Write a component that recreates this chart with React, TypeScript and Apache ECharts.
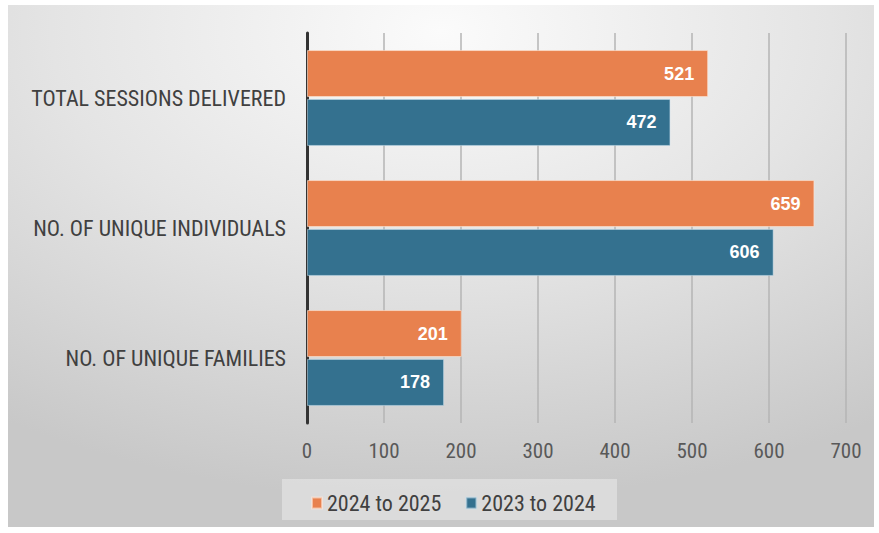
import React, { useEffect, useRef } from "react";
import * as echarts from "echarts";

const categories = ["TOTAL SESSIONS DELIVERED", "NO. OF UNIQUE INDIVIDUALS", "NO. OF UNIQUE FAMILIES"];
const seriesNames = ["2024 to 2025", "2023 to 2024"];
const values2425 = [521, 659, 201];
const values2324 = [472, 606, 178];
const xTicks = { min: 0, max: 700, interval: 100 };

export default function App() {
  const ref = useRef<HTMLDivElement>(null);
  useEffect(() => {
    const chart = echarts.init(ref.current!, null, { renderer: "svg" });
    const font = "'Liberation Sans Narrow', 'Roboto Condensed', 'Liberation Sans', sans-serif";
    const valueLabel = {
      show: true,
      position: "insideRight",
      distance: 14,
      color: "#ffffff",
      fontWeight: "bold",
      fontSize: 18,
      fontFamily: "'Liberation Sans', Arial, sans-serif",
    };
    chart.setOption({
      animation: false,
      backgroundColor: "#ffffff",
      graphic: [
        {
          type: "rect",
          z: -10,
          silent: true,
          shape: { x: 8, y: 5, width: 866, height: 522 },
          style: {
            fill: new echarts.graphic.RadialGradient(0.5, 0.05, 0.9, [
              { offset: 0, color: "#fbfbfb" },
              { offset: 0.5, color: "#e4e4e4" },
              { offset: 1, color: "#c8c8c8" },
            ]),
          },
        },
        {
          type: "rect",
          z: -5,
          silent: true,
          shape: { x: 282, y: 479, width: 335, height: 41 },
          style: { fill: "rgba(238,238,238,0.5)" },
        },
      ],
      grid: { left: 307, right: 33, top: 33, bottom: 110, containLabel: false },
      legend: {
        data: seriesNames,
        top: 487,
        left: 306,
        itemWidth: 10,
        itemHeight: 11,
        itemGap: 24,
        icon: "rect",
        textStyle: { color: "#404040", fontSize: 22, fontFamily: font },
      },
      xAxis: {
        type: "value",
        min: xTicks.min,
        max: xTicks.max,
        interval: xTicks.interval,
        axisLine: { show: false },
        axisTick: { show: false },
        splitLine: { show: true, lineStyle: { color: "#b4b4b4", width: 1.5 } },
        axisLabel: { color: "#595959", fontSize: 21, fontFamily: font, margin: 17 },
      },
      yAxis: {
        type: "category",
        data: categories,
        inverse: true,
        axisLine: { show: true, lineStyle: { color: "#333333", width: 3 } },
        axisTick: { show: false },
        axisLabel: { color: "#404040", fontSize: 22, fontFamily: font, margin: 21 },
      },
      series: [
        {
          name: seriesNames[0],
          type: "bar",
          data: values2425,
          barWidth: 47,
          barGap: "4%",
          itemStyle: { color: "#E8814E", borderColor: "rgba(255,230,215,0.6)", borderWidth: 1 },
          label: valueLabel,
        },
        {
          name: seriesNames[1],
          type: "bar",
          data: values2324,
          barWidth: 47,
          barGap: "4%",
          itemStyle: { color: "#34718F", borderColor: "rgba(200,225,240,0.5)", borderWidth: 1 },
          label: valueLabel,
        },
      ],
    });
    return () => chart.dispose();
  }, []);
  return <div ref={ref} style={{ position: "fixed", left: 0, top: 0, width: 879, height: 533 }} />;
}
